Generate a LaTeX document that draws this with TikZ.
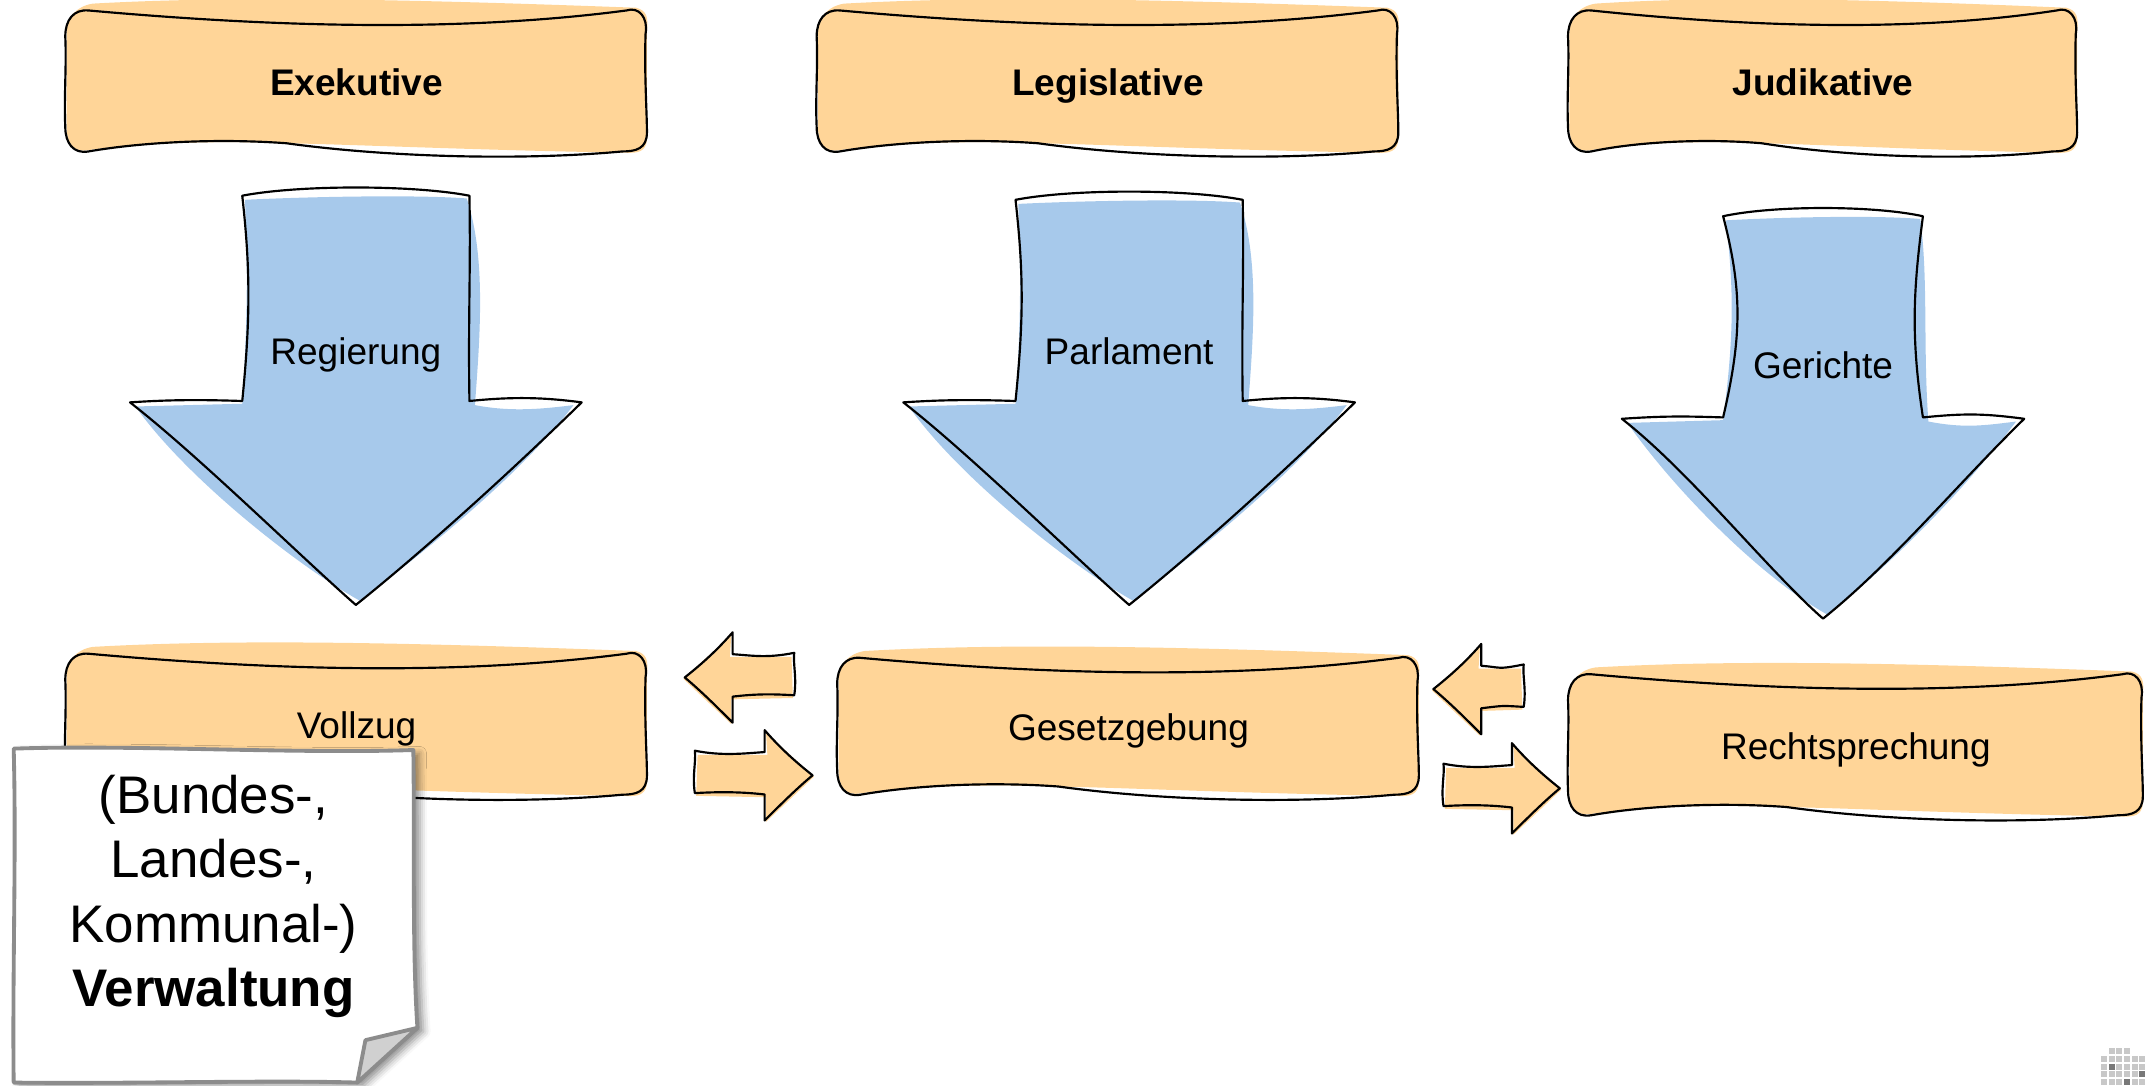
\documentclass[tikz,border=0pt]{standalone}
\usepackage{fontspec}
\setmainfont{Liberation Sans}
\usetikzlibrary{calc,shadows.blur}
\definecolor{boxorange}{RGB}{255,213,152}
\definecolor{arrowblue}{RGB}{167,201,235}
\definecolor{notegray}{RGB}{140,140,140}
\definecolor{foldgray}{RGB}{208,208,208}
\definecolor{logolight}{RGB}{200,200,200}
\definecolor{logodark}{RGB}{120,120,120}
\pgfdeclarelayer{background}
\pgfsetlayers{background,main}

% hand-drawn box behind a node: node, width, height (px)
\newcommand{\sketchbox}[3]{%
  \begin{pgfonlayer}{background}
  \begin{scope}[shift={(#1.north west)}]
    \fill[boxorange] (20,-2) .. controls ({0.3*#2},-8) and ({0.6*#2},-5) .. ({#2-8},1)
      .. controls ({#2},3) and ({#2+1},8) .. ({#2},18) -- ({#2},{#3-14})
      .. controls ({#2},{#3-6}) and ({#2-4},{#3-3}) .. ({#2-12},{#3-3})
      .. controls ({0.7*#2},{#3-5}) and ({0.5*#2},{#3-9}) .. ({0.38*#2},{#3-10})
      .. controls ({0.25*#2},{#3-12}) and ({0.12*#2},{#3-10}) .. (17,{#3-5})
      .. controls (6,{#3-3}) and (1,{#3-10}) .. (1,{#3-22}) -- (1,20)
      .. controls (1,8) and (8,0) .. (20,-2) -- cycle;
    \draw[sketch] (17,3) .. controls ({0.33*#2},14) and ({0.66*#2},20) .. ({#2-15},3)
      .. controls ({#2-6},0) and ({#2+1},8) .. ({#2-1},20)
      .. controls ({#2-2},{0.45*#3}) and ({#2},{0.7*#3}) .. ({#2},{#3-18})
      .. controls ({#2},{#3-6}) and ({#2-8},{#3-4}) .. ({#2-18},{#3-4})
      .. controls ({0.78*#2},{#3+3}) and ({0.55*#2},{#3}) .. ({0.38*#2},{#3-10})
      .. controls ({0.25*#2},{#3-14}) and ({0.12*#2},{#3-10}) .. (17,{#3-4})
      .. controls (6,{#3-2}) and (0,{#3-10}) .. (0,{#3-22})
      .. controls (-1,{0.6*#3}) and (1,{0.4*#3}) .. (0,22)
      .. controls (0,10) and (6,2) .. (17,3) -- cycle;
  \end{scope}
  \end{pgfonlayer}}

% big down arrow round a label: node, shaft half, wing half, top, neck, tip, shaft bend (px)
\newcommand{\sketchdown}[7]{%
  \begin{pgfonlayer}{background}
  \begin{scope}[shift={(#1.center)}]
    \fill[arrowblue] ({-#2+2},{#4+9}) .. controls ({-#2/2},{#4+7}) and ({#2/2},{#4+5}) .. ({#2-2},{#4+8})
      .. controls ({#2+12-#7},{#4+50}) and ({#2+8-#7},{#5-50}) .. ({#2+4},{#5+3})
      .. controls ({#2+30},{#5+8}) and ({#3-30},{#5+6}) .. ({#3-6},{#5+3})
      .. controls ({#3-45},{#5+55}) and (45,{#6-35}) .. (3,{#6-3})
      .. controls (-45,{#6-30}) and ({-#3+40},{#5+55}) .. ({-#3+4},{#5+4})
      -- ({-#2},{#5+2})
      .. controls ({-#2+4+#7/2},{#5-60}) and ({-#2+4+#7/2},{#4+60}) .. ({-#2+2},{#4+9}) -- cycle;
    \draw[sketch] ({-#2},{#4+6}) .. controls ({-#2/2},{#4-2}) and ({#2/2},{#4-2}) .. ({#2},{#4+6})
      .. controls ({#2+1-#7},{#4+60}) and ({#2-1-#7},{#5-60}) .. ({#2},{#5})
      .. controls ({#2+30},{#5-3}) and ({#3-30},{#5-3}) .. ({#3},{#5+1})
      .. controls ({#3-50},{#5+50}) and (50,{#6-40}) .. (0,{#6})
      .. controls (-40,{#6-35}) and ({-#3+50},{#5+40}) .. ({-#3},{#5+1})
      .. controls ({-#3+30},{#5-1}) and ({-#2-30},{#5-1}) .. ({-#2},{#5})
      .. controls ({-#2+6+#7},{#5-60}) and ({-#2+6+#7},{#4+60}) .. ({-#2},{#4+6}) -- cycle;
  \end{scope}
  \end{pgfonlayer}}

% small side arrow: tip, direction (1 right, -1 left), length (px)
\newcommand{\sidearrow}[3]{%
  \begin{scope}[shift={#1}, xscale=#2]
    \fill[boxorange] ({-#3+2},-15) -- (-33,-15) -- (-34,-31) -- (1,1) -- (-34,34) -- (-34,16) -- ({-#3+1},15) -- cycle;
    \draw[sketch] ({-#3},-18) .. controls ({-#3+20},-14) and (-50,-16) .. (-35,-17)
      -- (-35,-33) .. controls (-22,-18) and (-10,-8) .. (0,0)
      .. controls (-12,10) and (-24,22) .. (-35,33)
      -- (-35,14) .. controls (-52,12) and ({-#3+17},12) .. ({-#3},13)
      .. controls ({-#3-2},0) and ({-#3+1},-10) .. ({-#3},-18) -- cycle;
  \end{scope}}

\begin{document}
\begin{tikzpicture}[x=0.02cm, y=-0.02cm,
  sketch/.style={draw=black, line width=0.9pt, line join=round},
  txt/.style={font=\fontsize{15.4}{18}\selectfont, inner sep=0pt, text height=11pt, text depth=0pt},
  panel/.style={txt, minimum width=8.5cm, minimum height=2.2cm},
  paper/.style={fill=white, draw=notegray, line width=1.6pt, line join=round},
  notetext/.style={font=\fontsize{22}{26.8}\selectfont, align=center, inner sep=0pt}
]
\useasboundingbox (0,0) rectangle (1568,793);

% the three powers
\node[panel] (exe) at (260.5,60) {\textbf{Exekutive}};
\node[panel] (leg) at (809.5,60) {\textbf{Legislative}};
\node[panel, minimum width=7.44cm] (jud) at (1332,60) {\textbf{Judikative}};
\sketchbox{exe}{425}{110}
\sketchbox{leg}{425}{110}
\sketchbox{jud}{372}{110}

% down arrows
\node[txt] (reg) at (260,257) {Regierung};
\node[txt] (parl) at (825,257) {Parlament};
\node[txt] (ger) at (1332,267) {Gerichte};
\sketchdown{reg}{83}{165}{-120}{36}{185}{0}
\sketchdown{parl}{83}{165}{-117}{36}{185}{0}
\sketchdown{ger}{73}{147}{-115}{38}{185}{8}

% functions
\node[panel] (voll) at (260.5,530) {Vollzug};
\node[panel, minimum height=2.14cm] (ges) at (824.5,531.5) {Gesetzgebung};
\node[panel, minimum width=8.4cm] (rech) at (1356,545) {Rechtsprechung};
\sketchbox{voll}{425}{110}
\sketchbox{ges}{425}{107}
\sketchbox{rech}{420}{110}

% arrows between the functions
\sidearrow{($(voll.east)+(27,-35)$)}{-1}{80}
\sidearrow{($(ges.west)+(-18,35)$)}{1}{86}
\sidearrow{($(ges.east)+(10,-28)$)}{-1}{66}
\sidearrow{($(rech.west)+(-6,31)$)}{1}{85}

% note
\node[notetext] (note) at (156,655) {(Bundes-,\\Landes-,\\Kommunal-)\\\textbf{Verwaltung}};
\begin{scope}[shift={(note.center)}]
  \begin{pgfonlayer}{background}
  \path[paper, blur shadow={shadow xshift=2.5pt, shadow yshift=-1.5pt, shadow blur radius=3pt, shadow opacity=45}]
    (-146,-108) .. controls (-60,-111) and (60,-104) .. (146,-107)
    .. controls (147,-43) and (145,37) .. (149,96) -- (105,136)
    .. controls (40,134) and (-60,137) .. (-146,136)
    .. controls (-147,57) and (-144,-33) .. (-146,-108) -- cycle;
  \draw[notegray, fill=foldgray, line width=1.6pt, line join=round] (149,96) -- (111,105) -- (105,136) -- cycle;
  \end{pgfonlayer}
\end{scope}

% logo
\foreach \r in {1,...,4}
  \foreach \c in {0,...,5}
    \fill[logolight] (1535+5.6*\c,766+5.6*\r) rectangle +(4.4,4.4);
\foreach \c in {1,...,3}
  \fill[logolight] (1535+5.6*\c,766) rectangle +(4.4,4.4);
\foreach \c/\r in {1/2,5/3,3/4}
  \fill[logodark] (1535+5.6*\c,766+5.6*\r) rectangle +(4.4,4.4);

\end{tikzpicture}
\end{document}
